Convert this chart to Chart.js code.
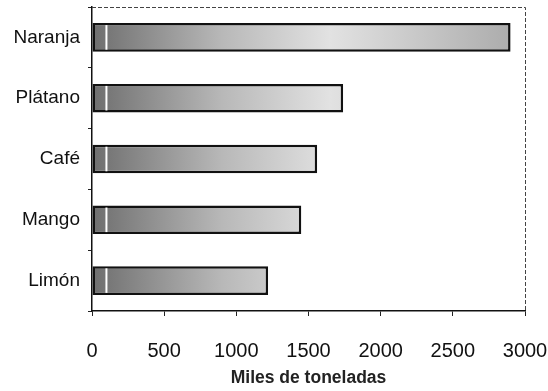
<!DOCTYPE html>
<html>
<head>
<meta charset="utf-8">
<script src="https://cdn.jsdelivr.net/npm/chart.js"></script>
<style>
  html, body { margin: 0; padding: 0; background: #fff; }
  #wrap { width: 548px; height: 391px; }
</style>
</head>
<body>
<div id="wrap"><canvas id="grafica" width="548" height="391"></canvas></div>
<script>
const productos = ['Naranja', 'Plátano', 'Café', 'Mango', 'Limón'];
const toneladas = [2900, 1740, 1560, 1450, 1220];
const tituloX = 'Miles de toneladas';

// marco del area de la grafica y raya blanca cerca del origen de cada barra
const marco = {
  id: 'marco',
  afterDatasetsDraw(chart) {
    const { ctx, chartArea, scales } = chart;
    const meta = chart.getDatasetMeta(0);
    const xRaya = scales.x.getPixelForValue(100);
    ctx.save();
    ctx.strokeStyle = '#fff';
    ctx.lineWidth = 2;
    meta.data.forEach(bar => {
      const h = bar.height / 2 - 2;
      ctx.beginPath();
      ctx.moveTo(xRaya, bar.y - h);
      ctx.lineTo(xRaya, bar.y + h);
      ctx.stroke();
    });
    ctx.strokeStyle = '#444';
    ctx.lineWidth = 1;
    ctx.setLineDash([4, 2]);
    ctx.beginPath();
    ctx.moveTo(chartArea.left, chartArea.top + 0.5);
    ctx.lineTo(chartArea.right + 0.5, chartArea.top + 0.5);
    ctx.lineTo(chartArea.right + 0.5, chartArea.bottom);
    ctx.stroke();
    ctx.restore();
  }
};

function relleno(context) {
  const area = context.chart.chartArea;
  if (!area) return '#aaa';
  const g = context.chart.ctx.createLinearGradient(area.left, 0, area.right, 0);
  g.addColorStop(0, '#6e6e6e');
  g.addColorStop(0.3, '#b8b8b8');
  g.addColorStop(0.55, '#e2e2e2');
  g.addColorStop(1, '#a8a8a8');
  return g;
}

const ctx = document.getElementById('grafica').getContext('2d');
const chart = new Chart(ctx, {
  type: 'bar',
  data: {
    labels: productos,
    datasets: [{
      data: toneladas,
      backgroundColor: relleno,
      borderColor: '#111',
      borderWidth: 2.5,
      borderSkipped: false,
      barPercentage: 0.47,
      categoryPercentage: 1
    }]
  },
  options: {
    indexAxis: 'y',
    responsive: false,
    animation: false,
    layout: { padding: { top: 0, right: 0, left: 0, bottom: 0 } },
    plugins: { legend: { display: false }, tooltip: { enabled: false } },
    scales: {
      x: {
        min: 0,
        max: 3000,
        ticks: {
          stepSize: 500,
          color: '#111',
          padding: 23,
          font: { family: 'Liberation Sans', size: 20 },
          callback: v => String(v)
        },
        grid: { drawOnChartArea: false, tickLength: 5, color: '#222' },
        border: { color: '#111', width: 1.5 },
        title: {
          display: true,
          text: tituloX,
          color: '#222',
          padding: { top: 2, bottom: 2 },
          font: { family: 'Liberation Sans', size: 17.5, weight: 'bold' }
        },
        afterFit(scale) { scale.height = 80; scale.paddingRight = 23; }
      },
      y: {
        ticks: { color: '#111', padding: 8, font: { family: 'Liberation Sans', size: 19 } },
        grid: { drawOnChartArea: false, offset: true, tickLength: 4, color: '#222' },
        border: { color: '#111', width: 1.5 },
        afterFit(scale) { scale.width = 92; scale.paddingTop = 7; }
      }
    }
  },
  plugins: [marco]
});
</script>
</body>
</html>
